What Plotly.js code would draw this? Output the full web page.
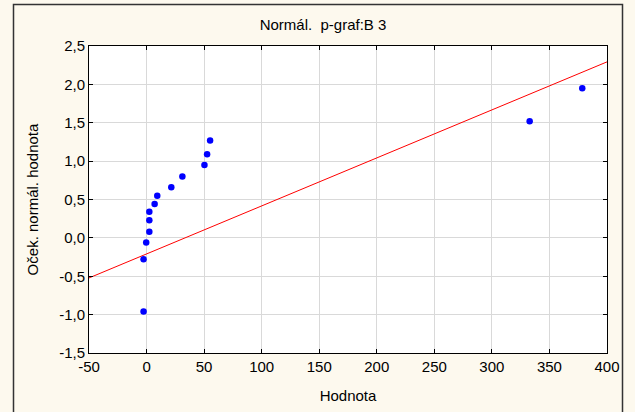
<!DOCTYPE html>
<html>
<head>
<meta charset="utf-8">
<script src="https://cdn.plot.ly/plotly-3.0.1.min.js"></script>
<style>
  html, body { margin: 0; padding: 0; background: #fdf9ee; }
  #chart { width: 635px; height: 412px; }
</style>
</head>
<body>
<div id="chart"></div>
<script>
// Observed values (Hodnota) and expected normal values
const hodnota = [-2.6, -2.6, -0.3, 2.4, 2.4, 2.4, 7.0, 9.3, 21.5, 31.1, 50.3, 52.6, 55.2, 332.8, 378.5];
const ocekNormal = [-0.96, -0.28, -0.06, 0.08, 0.23, 0.34, 0.44, 0.55, 0.66, 0.80, 0.95, 1.09, 1.27, 1.52, 1.95];

// Reference line endpoints
const lineX = [-50, 400];
const lineY = [-0.522, 2.293];

// Tick values and labels
const xTicks = [-50, 0, 50, 100, 150, 200, 250, 300, 350, 400];
const xTickLabels = ['-50', '0', '50', '100', '150', '200', '250', '300', '350', '400'];
const yTicks = [-1.5, -1.0, -0.5, 0.0, 0.5, 1.0, 1.5, 2.0, 2.5];
const yTickLabels = ['-1,5', '-1,0', '-0,5', '0,0', '0,5', '1,0', '1,5', '2,0', '2,5'];

const font = 'Liberation Sans, Arial, sans-serif';
const fs = 15;

const traces = [
  {
    x: lineX, y: lineY, type: 'scatter', mode: 'lines',
    line: { color: '#ff0000', width: 1 }, hoverinfo: 'skip'
  },
  {
    x: hodnota, y: ocekNormal, type: 'scatter', mode: 'markers',
    marker: { color: '#0000ff', size: 6.5 }
  }
];

const layout = {
  width: 635, height: 412,
  paper_bgcolor: '#fdf9ee',
  plot_bgcolor: '#ffffff',
  showlegend: false,
  margin: { l: 89, r: 28, t: 46, b: 59 },
  font: { family: font, size: fs, color: '#000000' },
  title: {
    text: 'Normál. \u00a0p-graf:B 3',
    font: { family: font, size: fs, color: '#000000' },
    x: 323 / 635, xref: 'container', xanchor: 'center',
    y: 1 - 25 / 412, yref: 'container', yanchor: 'middle'
  },
  xaxis: {
    range: [-50, 400],
    tickmode: 'array', tickvals: xTicks, ticktext: xTickLabels,
    showgrid: true, gridcolor: '#d9d9d9', gridwidth: 1,
    zeroline: false,
    showline: true, linecolor: '#000000', linewidth: 1, mirror: 'ticks',
    ticks: 'inside', ticklen: 4, tickcolor: '#000000',
    tickfont: { family: font, size: fs },
    title: { text: 'Hodnota', font: { family: font, size: fs }, standoff: 16 },
    automargin: false
  },
  yaxis: {
    range: [-1.5, 2.5],
    tickmode: 'array', tickvals: yTicks, ticktext: yTickLabels,
    showgrid: true, gridcolor: '#d9d9d9', gridwidth: 1,
    zeroline: false,
    showline: true, linecolor: '#000000', linewidth: 1, mirror: 'ticks',
    ticks: 'inside', ticklen: 4, tickcolor: '#000000',
    tickfont: { family: font, size: fs },
    title: { text: 'Oček. normál. hodnota', font: { family: font, size: fs }, standoff: 16 },
    automargin: false
  },
  shapes: [
    {
      type: 'rect', xref: 'paper', yref: 'paper',
      x0: (13.5 - 89) / 518, x1: (622.5 - 89) / 518,
      y0: (353 - 430) / 307, y1: (353 - 4.5) / 307,
      line: { color: '#333333', width: 1.5 }, fillcolor: 'rgba(0,0,0,0)',
      layer: 'below'
    }
  ]
};

Plotly.newPlot('chart', traces, layout, { staticPlot: true, displayModeBar: false });
</script>
</body>
</html>
